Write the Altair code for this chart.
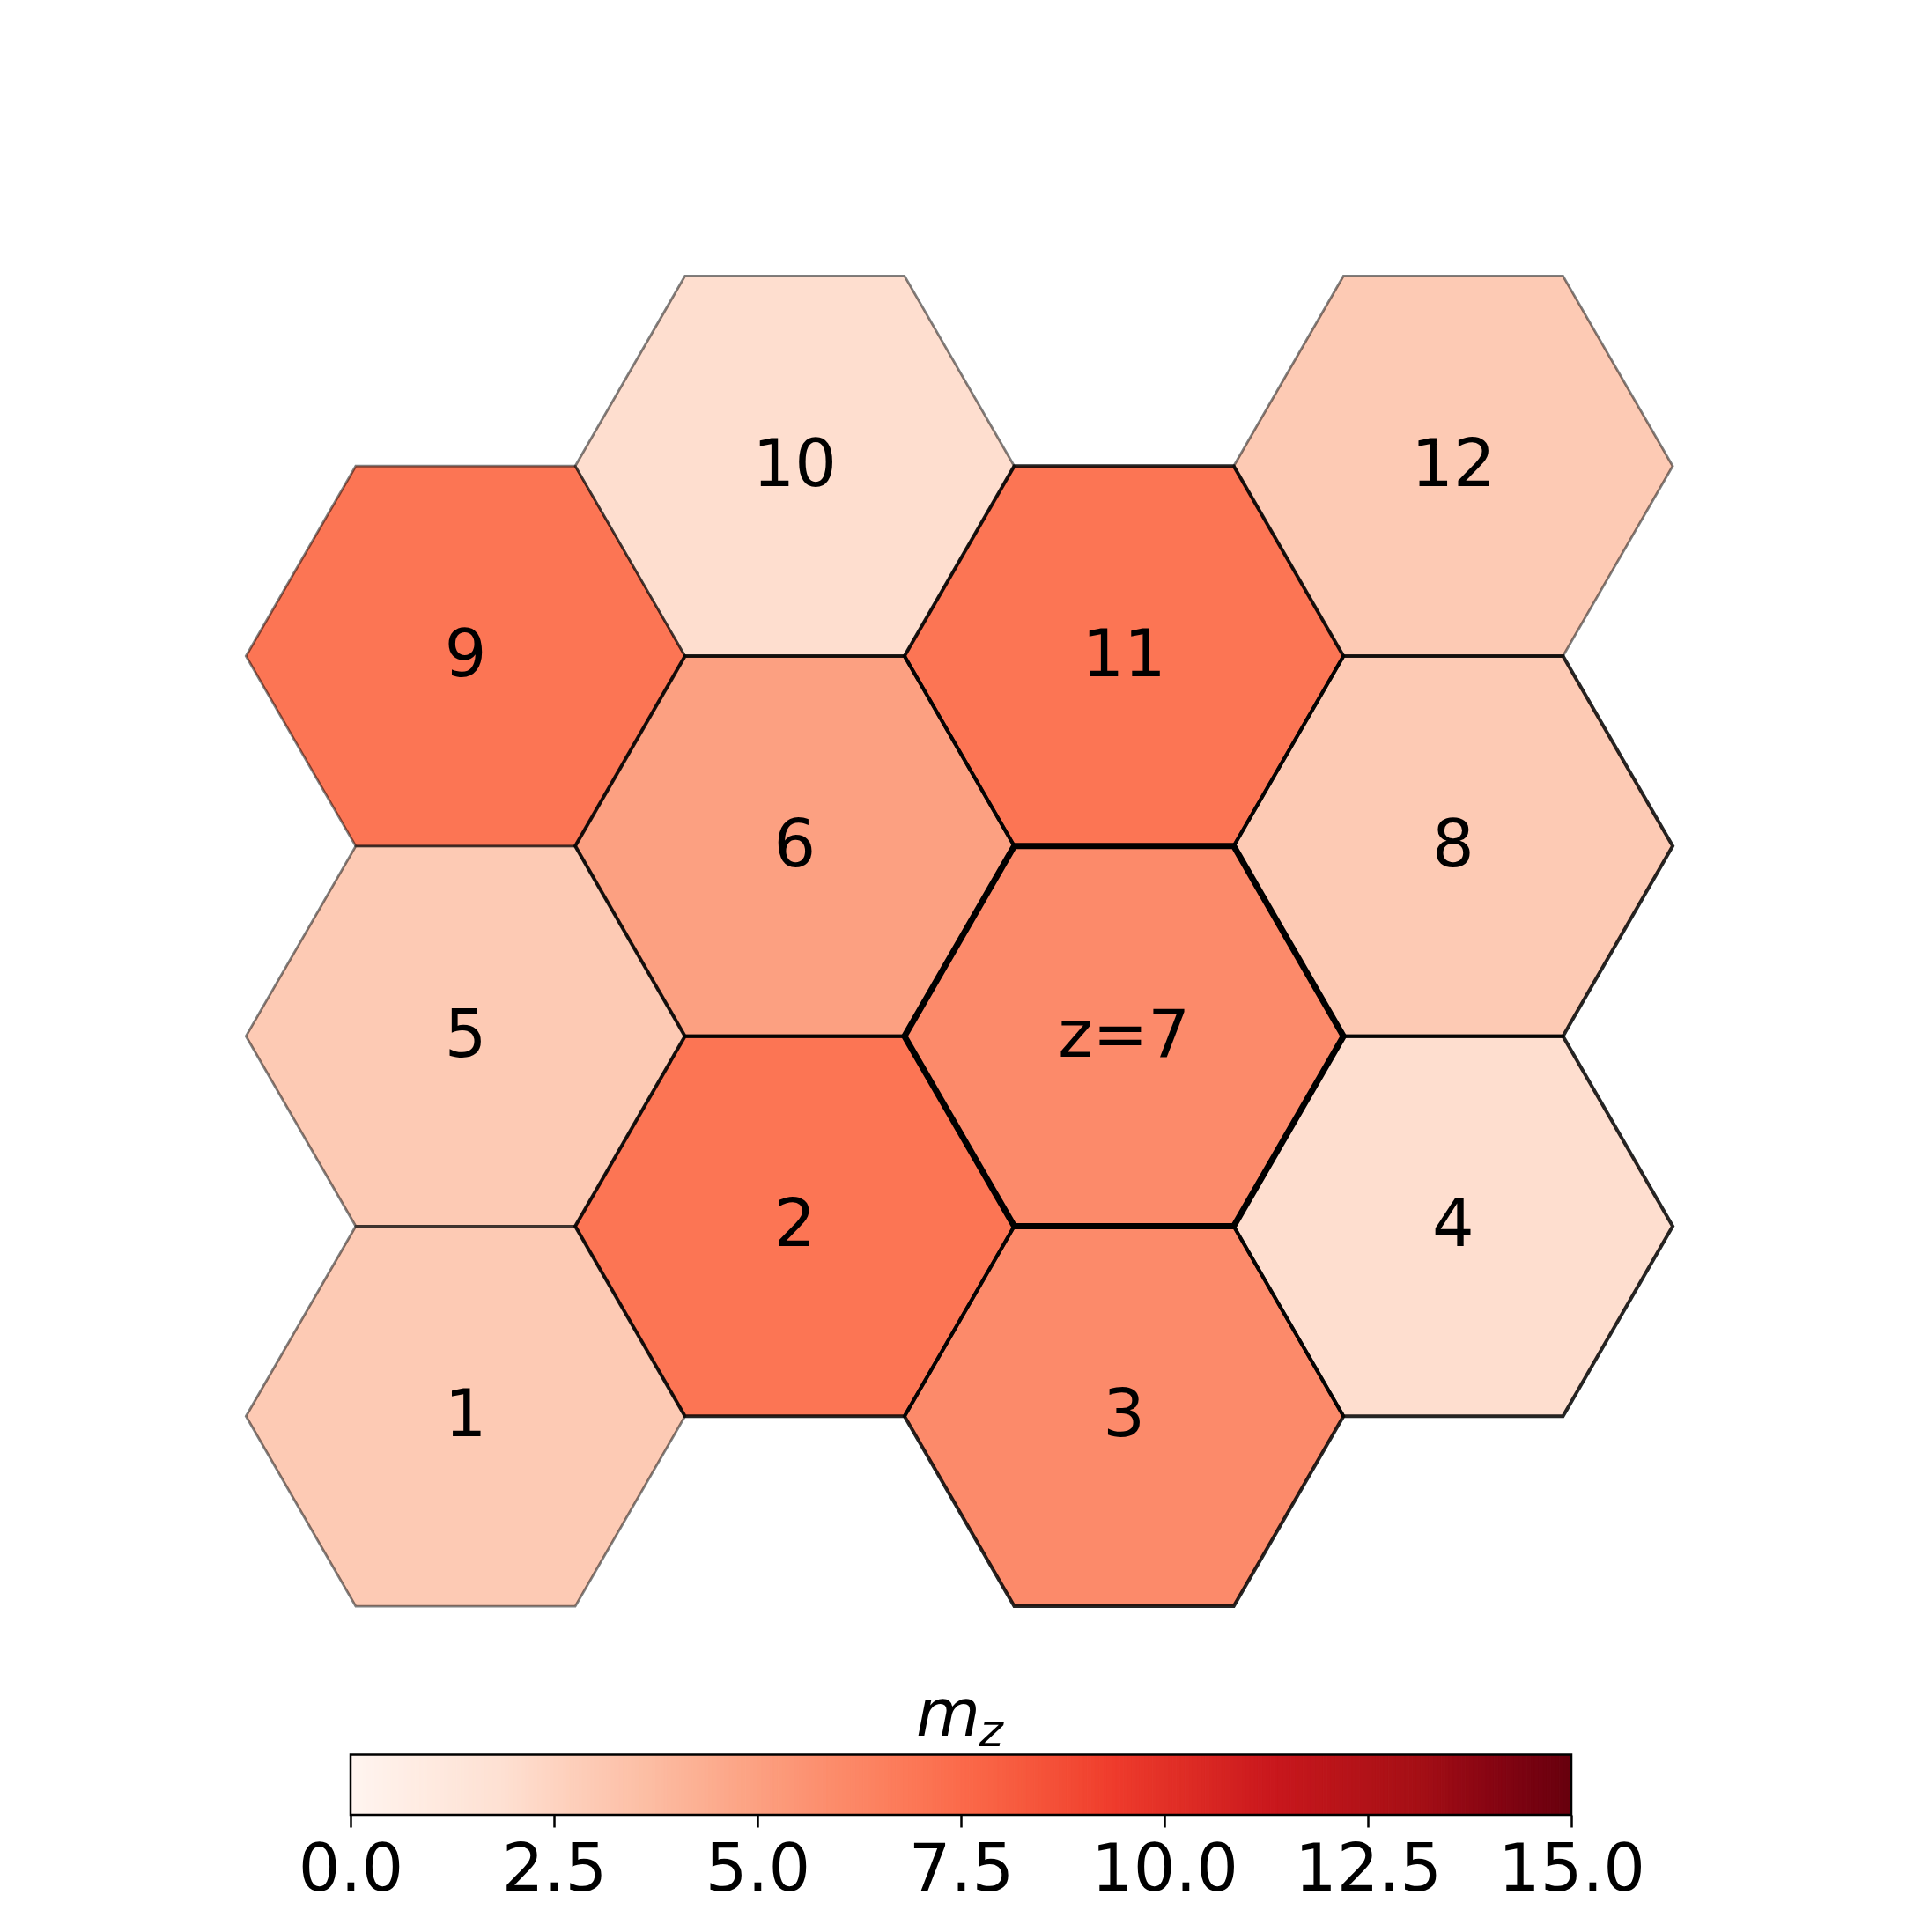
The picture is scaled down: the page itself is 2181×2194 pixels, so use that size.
import altair as alt
import pandas as pd
import numpy as np

# ---- data ----
labels = ["1", "2", "3", "4", "5", "6", "z=7", "8", "9", "10", "11", "12"]
cols = [0, 1, 2, 3, 0, 1, 2, 3, 0, 1, 2, 3]
rows = [0, 0.5, 0, 0.5, 1, 1.5, 1, 1.5, 2, 2.5, 2, 2.5]
mz = [3, 7, 6, 2, 3, 5, 6, 3, 7, 2, 7, 3]
ring = [2, 1, 1, 1, 2, 1, 0, 1, 2, 2, 1, 2]   # hex distance from site 7
cbar_ticks = [0.0, 2.5, 5.0, 7.5, 10.0, 12.5, 15.0]
vmin, vmax = 0.0, 15.0

# ---- layout constants ----
W, H = 2165, 2053
PPU = 249.2                     # pixels per hex radius
X0, Y0 = 520.5, 1600.3          # pixel position of hex 1 centre in plot area
xdom = [-X0 / PPU, (W - X0) / PPU]
ydom = [-(H - Y0) / PPU, Y0 / PPU]

df = pd.DataFrame({
    "label": labels,
    "x": [1.5 * c for c in cols],
    "y": [np.sqrt(3) * r for r in rows],
    "mz": mz,
    "ring": ring,
})

reds = ['#fff5f0', '#fee0d2', '#fcbba1', '#fc9272', '#fb6a4a',
        '#ef3b2c', '#cb181d', '#a50f15', '#67000d']
fill_scale = alt.Scale(domain=list(np.linspace(vmin, vmax, len(reds))), range=reds,
                       type="linear", clamp=True)

hex_path = "M-1,0L-0.5,-0.8660254L0.5,-0.8660254L1,0L0.5,0.8660254L-0.5,0.8660254Z"
size = (2 * PPU) ** 2

xs = alt.Scale(domain=xdom, nice=False, zero=False)
ys = alt.Scale(domain=ydom, nice=False, zero=False)

ring_style = {2: (2.8, 0.5), 1: (4.0, 0.85), 0: (7.0, 1.0)}

# fills first
fills = alt.Chart(df).mark_point(
    shape=hex_path, filled=True, opacity=1, fillOpacity=1, strokeWidth=0).encode(
    x=alt.X("x:Q", scale=xs, axis=None),
    y=alt.Y("y:Q", scale=ys, axis=None),
    fill=alt.Fill("mz:Q", scale=fill_scale, legend=None),
    size=alt.value(size),
)

# then outlines, thin/light first, heavy last
hex_layers = [fills]
for r in [2, 1, 0]:
    sw, so = ring_style[r]
    hex_layers.append(
        alt.Chart(df).transform_filter(alt.datum.ring == r).mark_point(
            shape=hex_path, filled=False, opacity=1,
            color="black", stroke="black", strokeWidth=sw, strokeOpacity=so,
            strokeJoin="miter").encode(
            x=alt.X("x:Q", scale=xs, axis=None),
            y=alt.Y("y:Q", scale=ys, axis=None),
            size=alt.value(size),
        )
    )

texts = alt.Chart(df).mark_text(font="DejaVu Sans", fontSize=75, color="black",
                                align="center", baseline="middle").encode(
    x=alt.X("x:Q", scale=xs, axis=None),
    y=alt.Y("y:Q", scale=ys, axis=None),
    text="label:N",
)

hex_layer = alt.layer(*hex_layers, texts)

# ---- colorbar ----
edges = np.linspace(vmin, vmax, 301)
strips = pd.DataFrame({"a": edges[:-1], "b": edges[1:], "v": (edges[:-1] + edges[1:]) / 2})
BAR_L, BAR_R = 390.0, 1776.0
cppu = (BAR_R - BAR_L) / (vmax - vmin)
cxs = alt.Scale(domain=[vmin - BAR_L / cppu, vmin + (W - BAR_L) / cppu], nice=False, zero=False)
BAR_TOP = H - 68.5

cax = alt.Axis(values=cbar_ticks, format=".1f", domain=False, grid=False,
               tickSize=14, tickWidth=2.5, tickColor="black",
               labelFontSize=75, labelFont="DejaVu Sans", labelColor="black",
               labelPadding=12, labelOverlap=False, labelFlush=False, title=None)

cbar = alt.Chart(strips).mark_rect(strokeWidth=1).encode(
    x=alt.X("a:Q", scale=cxs, axis=cax),
    x2="b:Q",
    y=alt.value(BAR_TOP),
    y2=alt.value(H),
    fill=alt.Fill("v:Q", scale=fill_scale, legend=None),
    stroke=alt.Stroke("v:Q", scale=fill_scale, legend=None),
)

outline = alt.Chart(pd.DataFrame({"a": [vmin], "b": [vmax]})).mark_rect(
    filled=False, stroke="black", strokeWidth=2.5, fillOpacity=0).encode(
    x=alt.X("a:Q", scale=cxs, axis=cax),
    x2="b:Q",
    y=alt.value(BAR_TOP),
    y2=alt.value(H),
)

title_m = alt.Chart(pd.DataFrame({"t": ["m"]})).mark_text(
    font="DejaVu Sans", fontStyle="italic", fontSize=75, color="black",
    align="center", baseline="alphabetic").encode(
    x=alt.value(1068.5), y=alt.value(1962.7), text="t:N")
title_z = alt.Chart(pd.DataFrame({"t": ["z"]})).mark_text(
    font="DejaVu Sans", fontStyle="italic", fontSize=52, color="black",
    align="center", baseline="alphabetic").encode(
    x=alt.value(1117.5), y=alt.value(1975), text="t:N")

cbar_layer = alt.layer(cbar, outline, title_m, title_z)

chart = alt.layer(hex_layer, cbar_layer).resolve_scale(
    x="independent", y="independent", stroke="independent"
).properties(
    width=W, height=H,
    padding={"left": 0, "top": 0, "right": 0, "bottom": 20},
).configure_view(strokeWidth=0)

chart.save("out.html", embed_options={"renderer": "svg", "actions": False})
